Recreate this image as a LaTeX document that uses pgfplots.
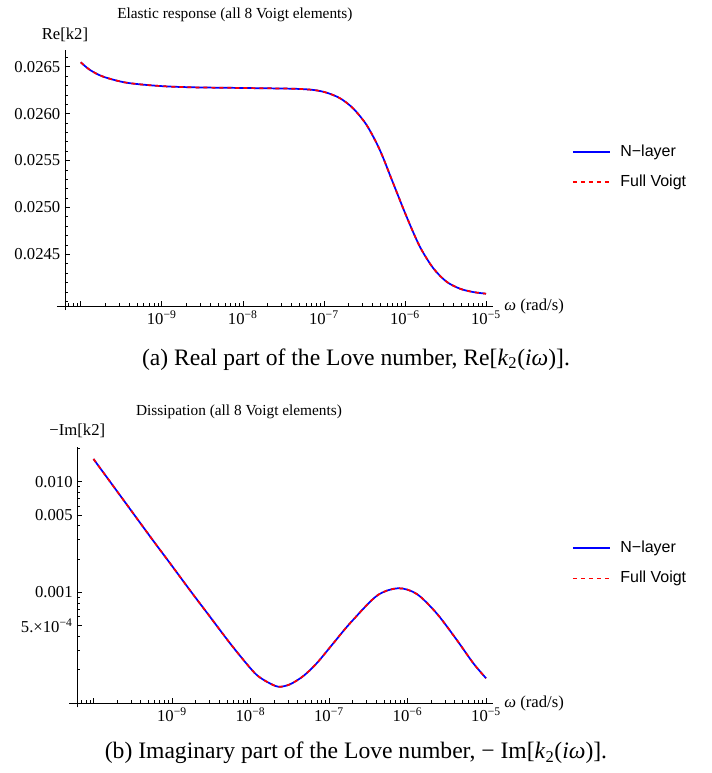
\documentclass[border=0pt]{standalone}
\usepackage{pgfplots}
\usepackage{pgfplotstable}
\pgfplotsset{compat=1.18}
\usepackage{fontspec}
\setmainfont{Liberation Serif}
\newfontfamily\legfont{Liberation Sans}

% === DATOS ===
\pgfplotstableread{
w          re
1.000e-10  0.026547
1.303e-10  0.026465
1.905e-10  0.026393
3.690e-10  0.026329
9.506e-10  0.026294
2.455e-9   0.026280
1.000e-8   0.026273
4.169e-8   0.026265
7.413e-8   0.026252
1.079e-7   0.026223
1.585e-7   0.026163
2.291e-7   0.026056
3.365e-7   0.025878
4.898e-7   0.025612
7.161e-7   0.025257
1.047e-6   0.024901
1.528e-6   0.024581
2.239e-6   0.024351
3.258e-6   0.024208
4.786e-6   0.024133
6.918e-6   0.024098
1.000e-5   0.024080
}\tabRe

\pgfplotstableread{
w          im
1.000e-10  0.01603
1.778e-10  0.00917
3.162e-10  0.00524
5.623e-10  0.002997
1.000e-9   0.001732
1.694e-9   1.043e-3
3.048e-9   6.01e-4
5.483e-9   3.46e-4
8.954e-9   2.25e-4
1.199e-8   1.79e-4
1.607e-8   1.556e-4
2.259e-8   1.40e-4
3.184e-8   1.472e-4
4.710e-8   1.750e-4
6.966e-8   2.28e-4
1.135e-7   3.46e-4
1.854e-7   5.25e-4
4.074e-7   9.31e-4
7.638e-7   1.087e-3
1.309e-6   9.66e-4
2.344e-6   6.46e-4
4.236e-6   3.71e-4
6.887e-6   2.28e-4
1.000e-5   1.67e-4
}\tabIm

\pgfplotsset{
  estiloMath/.style={
    scale only axis,
    axis lines=left,
    axis line style={-, line width=0.6pt},
    x axis line style={shorten <=-6pt},
    y axis line style={shorten <=-3pt},
    tick align=inside,
    major tick length=3.8pt,
    minor tick length=2.2pt,
    every tick/.style={black, line width=0.5pt},
    tick label style={font=\fontsize{12.5}{13}\selectfont},
    xtick={1e-10,1e-9,1e-8,1e-7,1e-6,1e-5},
    xticklabels={,10\textsuperscript{−9},10\textsuperscript{−8},10\textsuperscript{−7},10\textsuperscript{−6},10\textsuperscript{−5}},
    minor xtick={7e-11,8e-11,9e-11,
      2e-10,3e-10,4e-10,5e-10,6e-10,7e-10,8e-10,9e-10,
      2e-9,3e-9,4e-9,5e-9,6e-9,7e-9,8e-9,9e-9,
      2e-8,3e-8,4e-8,5e-8,6e-8,7e-8,8e-8,9e-8,
      2e-7,3e-7,4e-7,5e-7,6e-7,7e-7,8e-7,9e-7,
      2e-6,3e-6,4e-6,5e-6,6e-6,7e-6,8e-6,9e-6},
    xlabel={\textit{ω} (rad/s)},
    every axis x label/.style={at={(rel axis cs:1,0)}, anchor=west, xshift=5pt, font=\fontsize{12.5}{13}\selectfont},
    every axis y label/.style={at={(rel axis cs:0,1)}, anchor=south, yshift=3pt, font=\fontsize{12.5}{13}\selectfont},
    title style={anchor=base, font=\fontsize{11.5}{12}\selectfont},
    legend style={draw=none, fill=none, inner sep=0pt, anchor=west,
      font=\legfont\fontsize{12}{13}\selectfont,
      row sep=11.25pt, column sep=7pt,
      nodes={inner sep=0pt, text height=9pt, text depth=2.5pt, anchor=west}},
    legend cell align=left,
    legend image code/.code={\draw[##1] (0pt,0pt) -- (28pt,0pt);},
  },
  lineaN/.style={blue, line width=1.3pt, smooth},
  lineaV/.style={red, line width=1.3pt, dash pattern=on 3pt off 3pt, smooth},
}

\begin{document}
\begin{tikzpicture}
\useasboundingbox (0,0) rectangle (533.25pt,-579.75pt);

% === PANEL (a) ===
\begin{axis}[
  estiloMath,
  xmode=log,
  at={(48.75pt,-229.5pt)}, anchor=south west,
  width=321pt, height=192pt,
  xmin=6.397e-11, xmax=1.219e-5,
  ymin=0.023949, ymax=0.026678,
  scaled y ticks=false,
  ytick={0.0245,0.025,0.0255,0.026,0.0265},
  yticklabels={0.0245,0.0250,0.0255,0.0260,0.0265},
  minor ytick={0.0240,0.0241,0.0242,0.0243,0.0244,0.0246,0.0247,0.0248,0.0249,
    0.0251,0.0252,0.0253,0.0254,0.0256,0.0257,0.0258,0.0259,
    0.0261,0.0262,0.0263,0.0264,0.0266},
  ylabel={Re[k2]},
  title={Elastic response (all 8 Voigt elements)},
  title style={at={(rel axis cs:0.397,1)}, yshift=17.5pt},
  legend style={at={(rel axis cs:1,0.543)}, xshift=59pt},
]
\addlegendimage{lineaN}
\addlegendentry{N−layer}
\addlegendimage{lineaV}
\addlegendentry{Full Voigt}
\addplot[lineaN, forget plot] table[x=w, y=re] {\tabRe};
\addplot[lineaV, forget plot] table[x=w, y=re] {\tabRe};
\end{axis}

\node[anchor=base, font=\fontsize{17.7}{20}\selectfont] at (267pt,-274pt)
  {(a) Real part of the Love number, Re[\textit{k}\textsubscript{2}(\textit{iω})].};

% === PANEL (b) ===
\begin{axis}[
  estiloMath,
  xmode=log, ymode=log,
  at={(57.98pt,-527.48pt)}, anchor=south west,
  width=311.8pt, height=192.45pt,
  xmin=6.223e-11, xmax=1.227e-5,
  ymin=9.91e-5, ymax=0.0207,
  ytick={5e-4,0.001,0.005,0.01},
  yticklabels={5.×10\textsuperscript{−4},0.001,0.005,0.010},
  minor ytick={2e-4,3e-4,4e-4,6e-4,7e-4,8e-4,9e-4,
    0.002,0.003,0.004,0.006,0.007,0.008,0.009,0.02},
  ylabel={−Im[k2]},
  title={Dissipation (all 8 Voigt elements)},
  title style={at={(rel axis cs:0.389,1)}, yshift=17.5pt},
  legend style={at={(rel axis cs:1,0.546)}, xshift=59pt},
]
\addlegendimage{lineaN}
\addlegendentry{N−layer}
\addlegendimage{lineaV}
\addlegendentry{Full Voigt}
\addplot[lineaN, forget plot] table[x=w, y=im] {\tabIm};
\addplot[lineaV, forget plot] table[x=w, y=im] {\tabIm};
\end{axis}

\node[anchor=base, font=\fontsize{17.7}{20}\selectfont] at (267pt,-569pt)
  {(b) Imaginary part of the Love number, − Im[\textit{k}\textsubscript{2}(\textit{iω})].};
\end{tikzpicture}
\end{document}
